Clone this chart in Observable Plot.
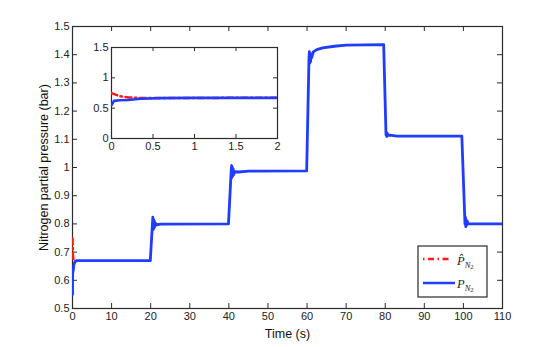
<!DOCTYPE html>
<html><head><meta charset="utf-8">
<script src="https://cdn.jsdelivr.net/npm/d3@7"></script>
<script src="https://cdn.jsdelivr.net/npm/@observablehq/plot@0.6"></script>
<style>
body{margin:0;background:#fff;}
#wrap{position:relative;width:554px;height:347px;overflow:hidden;}
#wrap svg{position:absolute;overflow:visible;}
</style></head><body><div id="wrap"></div>
<script>
// measured nitrogen partial pressure P_N2 (bar) vs time (s)
const time = [0, 0.03, 0.1, 0.2, 0.35, 0.6, 1.0, 1.5, 19.9, 20.45, 20.55, 20.65, 20.75, 20.85, 20.95, 21.05, 21.2, 21.5, 22.5,
  39.9, 40.6, 40.7, 40.8, 40.9, 41.0, 41.1, 41.25, 41.5, 42.5, 45,
  59.9, 60.5, 60.6, 60.7, 60.8, 60.9, 61.0, 61.2, 61.6, 62.5, 64, 67, 70, 79.6,
  80.2, 80.3, 80.4, 80.5, 80.7, 81.2, 83, 99.6,
  100.4, 100.5, 100.6, 100.7, 100.8, 100.95, 101.2, 102, 110];
const pN2 = [0.55, 0.62, 0.63, 0.635, 0.655, 0.665, 0.669, 0.67, 0.67, 0.80, 0.824, 0.78, 0.815, 0.785, 0.81, 0.79, 0.803, 0.797, 0.799,
  0.80, 0.99, 1.007, 0.965, 1.0, 0.97, 0.995, 0.975, 0.985, 0.984, 0.987,
  0.988, 1.39, 1.411, 1.37, 1.405, 1.375, 1.40, 1.39, 1.41, 1.418, 1.424, 1.43, 1.434, 1.436,
  1.115, 1.125, 1.11, 1.122, 1.114, 1.115, 1.111, 1.111,
  0.80, 0.824, 0.79, 0.815, 0.795, 0.81, 0.801, 0.80, 0.80];
// estimated pressure \hat P_N2
const timeHat = [0, 0.05, 0.1, 0.15, 0.2, 0.3, 0.5, 1, 2];
const pHat = [0.748, 0.722, 0.70, 0.685, 0.677, 0.67, 0.668, 0.669, 0.671];

const xTicks = [0, 10, 20, 30, 40, 50, 60, 70, 80, 90, 100, 110];
const yTicks = [0.5, 0.6, 0.7, 0.8, 0.9, 1, 1.1, 1.2, 1.3, 1.4, 1.5];
const insetXTicks = [0, 0.5, 1, 1.5, 2];
const insetYTicks = [0, 0.5, 1, 1.5];

const xLabel = "Time (s)";
const yLabel = "Nitrogen partial pressure (bar)";
const seriesNames = ["\u0050\u0302", "P"];

const BLUE = "#1f3cff", RED = "#ff1a1a", FRAME = "#2b2b2b";
const FONT = "'Liberation Sans', Arial, Helvetica, sans-serif";
const fmt = d => String(d);

const blue = time.map((t, i) => ({t, v: pN2[i]}));
const red = timeHat.map((t, i) => ({t, v: pHat[i]}));

function ticks(W, H, xs, ys, len, color) {
  return [
    Plot.ruleX(xs, {x: d => d, insetTop: H - len, stroke: color}),
    Plot.ruleX(xs, {x: d => d, insetBottom: H - len, stroke: color}),
    Plot.ruleY(ys, {y: d => d, insetRight: W - len, stroke: color}),
    Plot.ruleY(ys, {y: d => d, insetLeft: W - len, stroke: color})
  ];
}

const wrap = document.getElementById("wrap");

// main chart
const mW = 554, mH = 347, mL = 72, mR = 52, mT = 26, mB = 39;
const main = Plot.plot({
  width: mW, height: mH, marginLeft: mL, marginRight: mR, marginTop: mT, marginBottom: mB,
  x: {domain: [0, 110]},
  y: {domain: [0.5, 1.5]},
  style: {fontFamily: FONT, fontSize: "11px", color: "#222", background: "white"},
  marks: [
    Plot.frame({stroke: FRAME, strokeWidth: 1.2}),
    ...ticks(mW - mL - mR, mH - mT - mB, xTicks, yTicks, 5, FRAME),
    Plot.axisX(xTicks, {tickSize: 0, tickPadding: 4, tickFormat: fmt, label: null, fontSize: 11}),
    Plot.axisY(yTicks, {tickSize: 0, tickPadding: 3, tickFormat: fmt, label: null, fontSize: 11}),
    Plot.line(red, {x: "t", y: "v", stroke: RED, strokeWidth: 2.5, strokeDasharray: "6,3.5,1.5,3.5", clip: true}),
    Plot.line(blue, {x: "t", y: "v", stroke: BLUE, strokeWidth: 2.8, clip: true}),
    Plot.text([yLabel], {text: d => d, frameAnchor: "left", textAnchor: "middle", lineAnchor: "middle", dx: -29, rotate: -90, fontSize: 12.5, fill: "#111"}),
    Plot.text([xLabel], {text: d => d, frameAnchor: "bottom", textAnchor: "middle", lineAnchor: "middle", dy: 25, fontSize: 12.5, fill: "#111"})
  ]
});
main.style.left = "0px"; main.style.top = "0px";
wrap.appendChild(main);

// inset chart
const iL = 25, iR = 6, iT = 7, iB = 16, iPW = 166, iPH = 91;
const inset = Plot.plot({
  width: iL + iPW + iR, height: iT + iPH + iB,
  marginLeft: iL, marginRight: iR, marginTop: iT, marginBottom: iB,
  x: {domain: [0, 2]},
  y: {domain: [0, 1.5]},
  style: {fontFamily: FONT, fontSize: "11px", color: "#222", background: "transparent"},
  marks: [
    Plot.frame({fill: "white", stroke: FRAME, strokeWidth: 1.2}),
    ...ticks(iPW, iPH, insetXTicks, insetYTicks, 4, FRAME),
    Plot.axisX(insetXTicks, {tickSize: 0, tickPadding: 4, tickFormat: fmt, label: null, fontSize: 11}),
    Plot.axisY(insetYTicks, {tickSize: 0, tickPadding: 3, tickFormat: fmt, label: null, fontSize: 11}),
    Plot.line(red, {x: "t", y: "v", stroke: RED, strokeWidth: 2.5, strokeDasharray: "6,3.5,1.5,3.5", clip: true}),
    Plot.line(blue, {x: "t", y: "v", stroke: BLUE, strokeWidth: 2.6, clip: true})
  ]
});
inset.style.left = (111 - iL) + "px"; inset.style.top = (47 - iT) + "px";
wrap.appendChild(inset);

// legend
const leg = d3.select(wrap).append("svg").attr("width", mW).attr("height", mH)
  .style("left", "0px").style("top", "0px");
leg.append("rect").attr("x", 418).attr("y", 246).attr("width", 69).attr("height", 51)
  .attr("fill", "white").attr("stroke", FRAME).attr("stroke-width", 1.2);
leg.append("line").attr("x1", 423).attr("x2", 451).attr("y1", 259).attr("y2", 259)
  .attr("stroke", RED).attr("stroke-width", 2.5).attr("stroke-dasharray", "1.5,3.5,6,3.5");
leg.append("line").attr("x1", 423).attr("x2", 455).attr("y1", 283).attr("y2", 283)
  .attr("stroke", BLUE).attr("stroke-width", 2.5);
[[seriesNames[0], 265], [seriesNames[1], 288]].forEach(([s, y]) => {
  const t = leg.append("text").attr("x", 457).attr("y", y)
    .attr("font-family", "'Liberation Serif', 'DejaVu Serif', serif").attr("font-style", "italic")
    .attr("font-size", 12.5).attr("fill", "#222");
  t.append("tspan").text(s);
  t.append("tspan").attr("font-size", 8.5).attr("dy", 2.5).text("N");
  t.append("tspan").attr("font-size", 6.5).attr("dy", 1.5).attr("font-style", "normal").text("2");
});
</script></body></html>
